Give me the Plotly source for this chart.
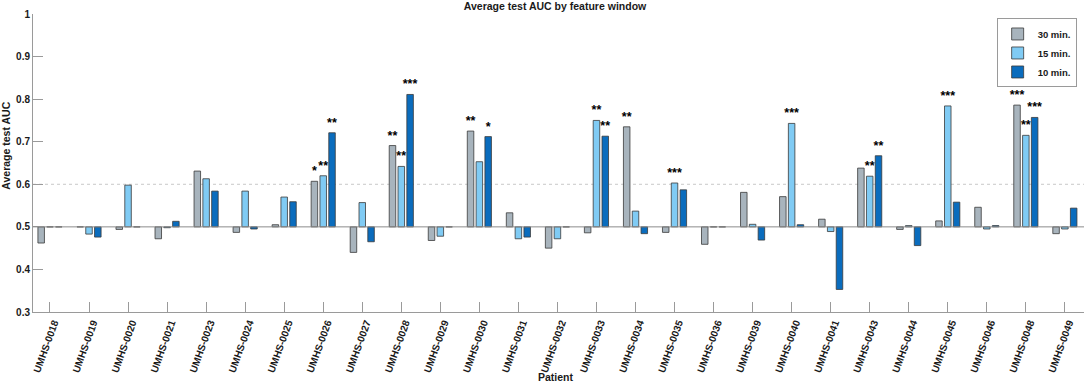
import plotly.graph_objects as go

patients = ["UMHS-0018", "UMHS-0019", "UMHS-0020", "UMHS-0021", "UMHS-0023", "UMHS-0024",
            "UMHS-0025", "UMHS-0026", "UMHS-0027", "UMHS-0028", "UMHS-0029", "UMHS-0030",
            "UMHS-0031", "UMHS-0032", "UMHS-0033", "UMHS-0034", "UMHS-0035", "UMHS-0036",
            "UMHS-0039", "UMHS-0040", "UMHS-0041", "UMHS-0043", "UMHS-0044", "UMHS-0045",
            "UMHS-0046", "UMHS-0048", "UMHS-0049"]

auc_30 = [0.462, 0.500, 0.494, 0.472, 0.631, 0.487, 0.505, 0.607, 0.440, 0.691, 0.468, 0.725,
          0.533, 0.450, 0.486, 0.735, 0.487, 0.459, 0.581, 0.571, 0.518, 0.638, 0.494, 0.514,
          0.546, 0.786, 0.484]
auc_15 = [0.500, 0.483, 0.598, 0.498, 0.613, 0.584, 0.570, 0.620, 0.557, 0.642, 0.478, 0.653,
          0.472, 0.472, 0.750, 0.537, 0.603, 0.500, 0.506, 0.743, 0.489, 0.619, 0.503, 0.784,
          0.495, 0.715, 0.495]
auc_10 = [0.500, 0.476, 0.500, 0.513, 0.584, 0.495, 0.559, 0.721, 0.465, 0.811, 0.500, 0.712,
          0.476, 0.500, 0.713, 0.484, 0.587, 0.500, 0.469, 0.505, 0.353, 0.667, 0.456, 0.558,
          0.503, 0.757, 0.544]

sig_30 = ["", "", "", "", "", "", "", "*", "", "**", "", "**", "", "", "", "**", "", "", "",
          "", "", "", "", "", "", "***", ""]
sig_15 = ["", "", "", "", "", "", "", "**", "", "**", "", "", "", "", "**", "", "***", "", "",
          "***", "", "**", "", "***", "", "**", ""]
sig_10 = ["", "", "", "", "", "", "", "**", "", "***", "", "*", "", "", "**", "", "", "", "",
          "", "", "**", "", "", "", "***", ""]

series_names = ["30 min.", "15 min.", "10 min."]
series_colors = ["#a8b4bd", "#80cbf4", "#0a6cbd"]
chance = 0.5
threshold = 0.6
y_ticks = [0.3, 0.4, 0.5, 0.6, 0.7, 0.8, 0.9, 1.0]
y_tick_text = ["0.3", "0.4", "0.5", "0.6", "0.7", "0.8", "0.9", "1"]

FONT = "Liberation Sans, Arial, sans-serif"
idx = list(range(len(patients)))

fig = go.Figure()
for name, vals, sig, col in zip(series_names, [auc_30, auc_15, auc_10],
                                [sig_30, sig_15, sig_10], series_colors):
    fig.add_trace(go.Bar(
        x=idx, y=[v - chance for v in vals], base=chance, name=name,
        marker=dict(color=col, line=dict(color="#3a3a3a", width=0.8)),
        text=sig, textposition="outside", constraintext="none", cliponaxis=False,
        textfont=dict(family=FONT, size=12.5, color="black", weight="bold"),
    ))

fig.add_shape(type="line", xref="paper", yref="y", x0=0, x1=1, y0=threshold, y1=threshold,
              line=dict(color="#c8c8c8", width=1, dash="dot"), layer="below")
fig.add_shape(type="line", xref="paper", yref="y", x0=0, x1=1, y0=chance, y1=chance,
              line=dict(color="#8c8c8c", width=1), layer="above")

fig.update_layout(
    template="none",
    width=1084, height=383,
    margin=dict(l=33, r=0, t=14, b=71, autoexpand=False),
    paper_bgcolor="white", plot_bgcolor="white",
    barmode="group", bargap=0.323, bargroupgap=0.26,
    font=dict(family=FONT, size=10, color="#1a1a1a"),
    title=dict(text="Average test AUC by feature window", x=0.512, xanchor="center",
               y=0.984, yanchor="middle",
               font=dict(family=FONT, size=10.5, color="#1a1a1a", weight="bold")),
    showlegend=True,
    legend=dict(x=0.993, xanchor="right", y=0.985, yanchor="top",
                bgcolor="white", bordercolor="#9a9a9a", borderwidth=1,
                font=dict(family=FONT, size=9.5, color="#1a1a1a", weight="bold"),
                tracegroupgap=0, itemwidth=30),
    xaxis=dict(range=[-0.435, 26.49], tickmode="array", tickvals=idx, ticktext=patients,
               tickangle=-70, ticks="inside", ticklen=10, tickcolor="#9a9a9a",
               ticklabelshift=4,
               showline=True, linecolor="#9a9a9a", linewidth=1, showgrid=False,
               zeroline=False, automargin=False,
               tickfont=dict(family=FONT, size=10, color="#1a1a1a", weight="bold")),
    yaxis=dict(range=[0.3, 1.0], tickmode="array", tickvals=y_ticks, ticktext=y_tick_text,
               ticks="inside", ticklen=10, tickcolor="#9a9a9a",
               showline=True, linecolor="#9a9a9a", linewidth=1, showgrid=False,
               zeroline=False, automargin=False,
               tickfont=dict(family=FONT, size=10, color="#1a1a1a", weight="bold")),
    annotations=[
        dict(text="Average test AUC", xref="paper", yref="paper", x=-0.026, y=0.557,
             xanchor="center", yanchor="middle", textangle=-90, showarrow=False,
             font=dict(family=FONT, size=10.5, color="#1a1a1a", weight="bold")),
        dict(text="Patient", xref="paper", yref="paper", x=0.498, y=-0.218,
             xanchor="center", yanchor="middle", showarrow=False,
             font=dict(family=FONT, size=10.5, color="#1a1a1a", weight="bold")),
    ],
)

fig.write_html("out.html", config={"displayModeBar": False},
               post_script="document.body.style.margin='0';document.body.style.overflow='hidden';")
